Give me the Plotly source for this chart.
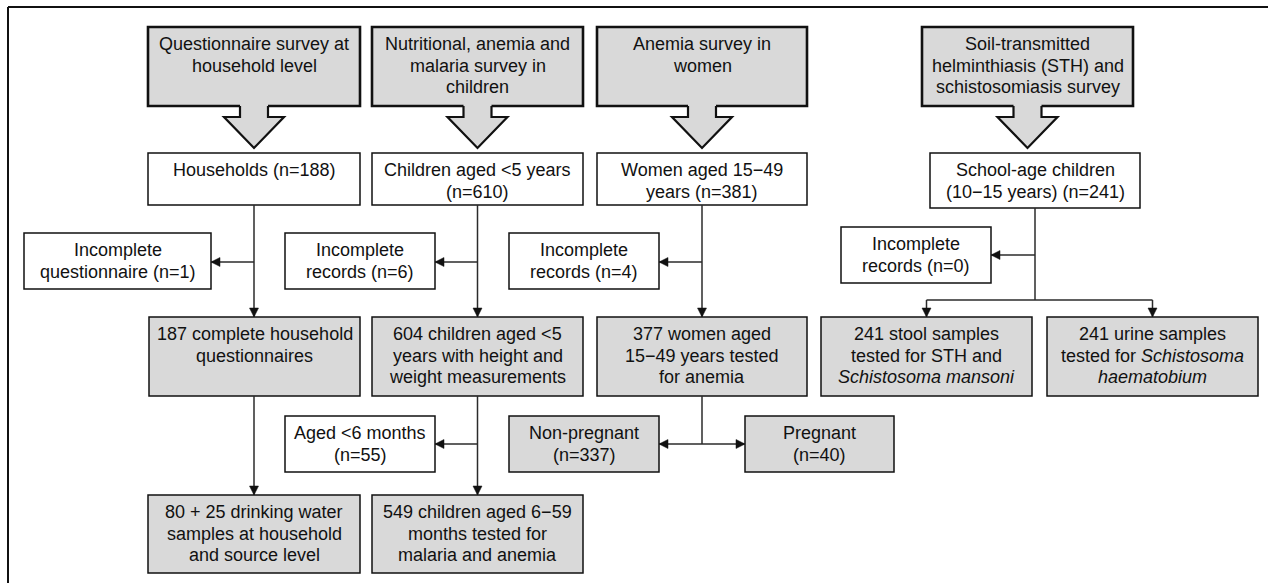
import plotly.graph_objects as go

# ---------------- data: texts of the flow chart ----------------
survey_titles = [
    "Questionnaire survey at<br>household level",
    "Nutritional, anemia and<br>malaria survey in<br>children",
    "Anemia survey in<br>women",
    "Soil-transmitted<br>helminthiasis (STH) and<br>schistosomiasis survey",
]
enrolled_texts = [
    "Households (n=188)",
    "Children aged <5 years<br>(n=610)",
    "Women aged 15−49<br>years (n=381)",
    "School-age children<br>(10−15 years) (n=241)",
]
excluded_texts = [
    "Incomplete<br>questionnaire (n=1)",
    "Incomplete<br>records (n=6)",
    "Incomplete<br>records (n=4)",
    "Incomplete<br>records (n=0)",
]
analysed_texts = [
    "187 complete household<br>questionnaires",
    "604 children aged <5<br>years with height and<br>weight measurements",
    "377 women aged<br>15−49 years tested<br>for anemia",
    "241 stool samples<br>tested for STH and<br><i>Schistosoma mansoni</i>",
    "241 urine samples<br>tested for <i>Schistosoma</i><br><i>haematobium</i>",
]
split_texts = [
    "Aged <6 months<br>(n=55)",
    "Non-pregnant<br>(n=337)",
    "Pregnant<br>(n=40)",
]
final_texts = [
    "80 + 25 drinking water<br>samples at household<br>and source level",
    "549 children aged 6−59<br>months tested for<br>malaria and anemia",
]

# ---------------- layout geometry (pixels) ----------------
W, H = 1268, 583
GRAY = "#d9d9d9"
INK = "#111111"
LINE = "#2b2b2b"
FONT = "Liberation Sans, Arial, sans-serif"
FS = 18
LINE_H = 21.7
PAD = 17

shapes = []
annotations = []


def box(x0, x1, y0, y1, text, fill, lw=1.5):
    shapes.append(dict(type="rect", xref="x", yref="y", x0=x0, x1=x1, y0=y0, y1=y1,
                       fillcolor=fill, line=dict(color=INK, width=lw), layer="above"))
    cx = (x0 + x1) / 2
    for i, ln in enumerate(text.split("<br>")):
        annotations.append(dict(x=cx, y=y0 + PAD + i * LINE_H, xref="x", yref="y",
                                text=ln, showarrow=False, xanchor="center", yanchor="middle",
                                font=dict(family=FONT, size=FS, color=INK)))


def seg(x0, y0, x1, y1, color=LINE, width=1.5):
    shapes.append(dict(type="line", xref="x", yref="y", x0=x0, y0=y0, x1=x1, y1=y1,
                       line=dict(color=color, width=width), layer="above"))


def head(x, y, direction, L=9, hw=4.5):
    if direction == "down":
        p = f"M {x} {y} L {x-hw} {y-L} L {x+hw} {y-L} Z"
    elif direction == "left":
        p = f"M {x} {y} L {x+L} {y-hw} L {x+L} {y+hw} Z"
    else:  # right
        p = f"M {x} {y} L {x-L} {y-hw} L {x-L} {y+hw} Z"
    shapes.append(dict(type="path", xref="x", yref="y", path=p, fillcolor=INK,
                       line=dict(color=INK, width=0.5), layer="above"))


def arrow(x0, y0, x1, y1, direction):
    seg(x0, y0, x1, y1)
    head(x1, y1, direction)


def block_arrow(cx, ytop, ymid=117, ytip=148, sw=14, hw=30):
    fillp = (f"M {cx-sw} {ytop-2} L {cx-sw} {ymid} L {cx-hw} {ymid} L {cx} {ytip} "
             f"L {cx+hw} {ymid} L {cx+sw} {ymid} L {cx+sw} {ytop-2} Z")
    shapes.append(dict(type="path", xref="x", yref="y", path=fillp, fillcolor=GRAY,
                       line=dict(width=0), layer="above"))
    outp = (f"M {cx-sw} {ytop} L {cx-sw} {ymid} L {cx-hw} {ymid} L {cx} {ytip} "
            f"L {cx+hw} {ymid} L {cx+sw} {ymid} L {cx+sw} {ytop}")
    shapes.append(dict(type="path", xref="x", yref="y", path=outp,
                       fillcolor="rgba(0,0,0,0)", line=dict(color=INK, width=2.2), layer="above"))


# columns
cols = [(148, 360), (372, 583), (597, 807), (922, 1133)]

# frame (top and left edges)
seg(8, 7, W + 5, 7, INK, 2)
seg(8, 7, 8, H + 5, INK, 2)

# row 1: survey boxes with block arrows
for (x0, x1), t in zip(cols, survey_titles):
    box(x0, x1, 27, 106, t, GRAY, lw=2.6)
    block_arrow((x0 + x1) / 2, 106)

# row 2: enrolled
row2 = [(148, 360, 153, 205), (372, 583, 153, 205), (597, 807, 153, 205), (930, 1140, 153, 208)]
for (x0, x1, y0, y1), t in zip(row2, enrolled_texts):
    box(x0, x1, y0, y1, t, "white")

# row 3: excluded
row3 = [(24, 211, 233, 289), (285, 435, 233, 289), (509, 659, 233, 289), (841, 991, 227, 283)]
for (x0, x1, y0, y1), t in zip(row3, excluded_texts):
    box(x0, x1, y0, y1, t, "white")

# row 4: analysed
row4 = [(149, 360), (372, 583), (597, 807), (821, 1032), (1047, 1258)]
for (x0, x1), t in zip(row4, analysed_texts):
    box(x0, x1, 317, 396, t, GRAY)

# row 5
row5 = [(285, 435, "white"), (509, 659, GRAY), (745, 894, GRAY)]
for (x0, x1, f), t in zip(row5, split_texts):
    box(x0, x1, 416, 472, t, f)

# row 6
row6 = [(148, 360), (372, 583)]
for (x0, x1), t in zip(row6, final_texts):
    box(x0, x1, 495, 573, t, GRAY)

# connectors
for i, (x0, x1) in enumerate(cols[:3]):
    cx = (x0 + x1) / 2
    arrow(cx, 205, cx, 317, "down")
    arrow(cx, 262, row3[i][1], 262, "left")

cA = (cols[0][0] + cols[0][1]) / 2
arrow(cA, 396, cA, 495, "down")
cB = (cols[1][0] + cols[1][1]) / 2
arrow(cB, 396, cB, 495, "down")
arrow(cB, 444, row5[0][1], 444, "left")
cC = (cols[2][0] + cols[2][1]) / 2
seg(cC, 396, cC, 444)
arrow(cC, 444, row5[1][1], 444, "left")
arrow(cC, 444, row5[2][0], 444, "right")
cD = (row2[3][0] + row2[3][1]) / 2
seg(cD, 208, cD, 300)
arrow(cD, 255, row3[3][1], 255, "left")
cs = (row4[3][0] + row4[3][1]) / 2
cu = (row4[4][0] + row4[4][1]) / 2
seg(cs, 300, cu, 300)
arrow(cs, 300, cs, 317, "down")
arrow(cu, 300, cu, 317, "down")

fig = go.Figure()
fig.add_trace(go.Scatter(x=[0, W], y=[0, H], mode="markers", marker=dict(opacity=0),
                         hoverinfo="skip", showlegend=False))
fig.update_layout(
    width=W, height=H, margin=dict(l=0, r=0, t=0, b=0),
    paper_bgcolor="white", plot_bgcolor="white",
    xaxis=dict(range=[0, W], visible=False, fixedrange=True),
    yaxis=dict(range=[H, 0], visible=False, fixedrange=True),
    shapes=shapes, annotations=annotations, showlegend=False,
)
fig.write_html("out.html", config={"displayModeBar": False},
               post_script="document.body.style.margin='0';document.body.style.overflow='hidden';")
